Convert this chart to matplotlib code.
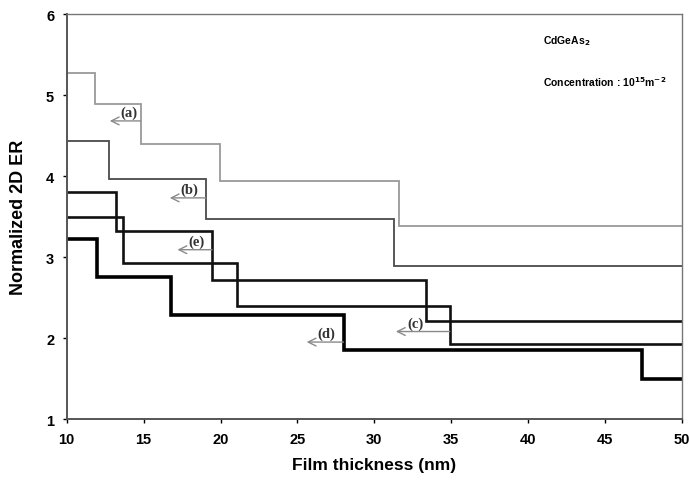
import matplotlib
matplotlib.use("Agg")
import matplotlib.pyplot as plt

# Step profiles: edges along film thickness (nm) and the level on each interval
edges_a = [10, 11.85, 14.8, 19.95, 31.6, 50]
levels_a = [5.27, 4.885, 4.39, 3.94, 3.38]

edges_b = [10, 12.75, 19.05, 31.25, 50]
levels_b = [4.43, 3.96, 3.47, 2.89]

edges_c = [10, 13.2, 19.45, 33.35, 50]
levels_c = [3.80, 3.325, 2.71, 2.205]

edges_e = [10, 13.65, 21.05, 34.9, 50]
levels_e = [3.49, 2.92, 2.40, 1.92]

edges_d = [10, 12.0, 16.75, 28.05, 47.4, 50]
levels_d = [3.22, 2.755, 2.29, 1.85, 1.49]

# Curve tags: label text, arrow tail x, arrow head x, arrow y
tag_names = ["(a)", "(b)", "(e)", "(c)", "(d)"]
tag_tail_x = [14.8, 19.05, 19.45, 34.9, 28.0]
tag_head_x = [12.8, 16.7, 17.2, 31.4, 25.6]
tag_y = [4.68, 3.73, 3.09, 2.08, 1.95]

x_ticks = [10, 15, 20, 25, 30, 35, 40, 45, 50]
y_ticks = [1, 2, 3, 4, 5, 6]

fig = plt.figure(figsize=(6.89, 4.81), dpi=100)
ax = fig.add_axes([0.0968, 0.1268, 0.8930, 0.8420])

ax.stairs(levels_a, edges_a, baseline=None, color="#9a9a9a", lw=1.3)
ax.stairs(levels_b, edges_b, baseline=None, color="#4a4a4a", lw=1.3)
ax.stairs(levels_c, edges_c, baseline=None, color="#111111", lw=1.9)
ax.stairs(levels_e, edges_e, baseline=None, color="#111111", lw=1.9)
ax.stairs(levels_d, edges_d, baseline=None, color="#000000", lw=2.6)

for name, xt, xh, yv in zip(tag_names, tag_tail_x, tag_head_x, tag_y):
    ax.annotate("", xy=(xh, yv), xytext=(xt, yv),
                arrowprops=dict(arrowstyle="->", color="#8a8a8a", lw=1.0,
                                shrinkA=0, shrinkB=0, mutation_scale=14))
    # tag sits just above the arrow, a little right of its head
    ax.text(xh + 1.25, yv + 0.02, name, ha="center", va="bottom",
            family="Liberation Serif", fontweight="bold", fontsize=10.5,
            color="#333333")

ax.text(0.774, 0.935, r"CdGeAs$_\mathbf{2}$", transform=ax.transAxes,
        family="Liberation Sans", fontweight="bold", fontsize=7.5, va="center")
ax.text(0.774, 0.835, r"Concentration : 10$^\mathbf{15}$m$^\mathbf{-2}$",
        transform=ax.transAxes, family="Liberation Sans", fontweight="bold",
        fontsize=7.5, va="center")

ax.set_xlim(10, 50)
ax.set_ylim(1, 6)
ax.set_xticks(x_ticks)
ax.set_yticks(y_ticks)
ax.tick_params(direction="out", length=3, width=1, labelsize=10.5, pad=6)
for lbl in ax.get_xticklabels() + ax.get_yticklabels():
    lbl.set_fontweight("bold")
    lbl.set_family("Liberation Sans")

for side in ["left", "bottom"]:
    ax.spines[side].set_color("#555555")
    ax.spines[side].set_linewidth(1.4)
for side in ["top", "right"]:
    ax.spines[side].set_color("#777777")
    ax.spines[side].set_linewidth(1.0)

ax.set_xlabel("Film thickness (nm)", family="Liberation Sans",
              fontweight="bold", fontsize=12.5, labelpad=8)
ax.set_ylabel("Normalized 2D ER", family="Liberation Sans",
              fontweight="bold", fontsize=13, labelpad=14)

fig.savefig("out.png", dpi=100)
